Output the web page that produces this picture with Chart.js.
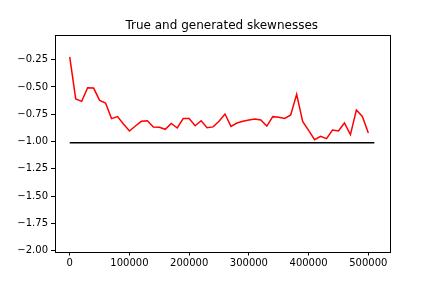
<!DOCTYPE html>
<html>
<head>
<meta charset="utf-8">
<script src="https://cdn.jsdelivr.net/npm/chart.js@4/dist/chart.umd.min.js"></script>
<style>
  html, body { margin: 0; padding: 0; background: #fff; }
  canvas { display: block; }
</style>
</head>
<body>
<canvas id="chart" width="432" height="288"></canvas>
<script>
// generated skewness, one value every 10000 steps
var steps = [];
for (var i = 0; i <= 50; i++) steps.push(i * 10000);
var generated = [
  -0.225, -0.61, -0.632, -0.507, -0.51, -0.623, -0.647, -0.79, -0.772, -0.84,
  -0.904, -0.858, -0.815, -0.809, -0.867, -0.87, -0.888, -0.834, -0.876, -0.79,
  -0.79, -0.855, -0.809, -0.874, -0.866, -0.815, -0.748, -0.861, -0.83, -0.815,
  -0.803, -0.794, -0.803, -0.858, -0.772, -0.778, -0.788, -0.757, -0.568, -0.815,
  -0.898, -0.983, -0.953, -0.974, -0.895, -0.904, -0.83, -0.937, -0.711, -0.77,
  -0.922
];
// true skewness, flat
var trueX = [0, 510000];
var trueY = [-1.01, -1.01];

var xTicks = [0, 100000, 200000, 300000, 400000, 500000];
var yTicks = [-2.0, -1.75, -1.5, -1.25, -1.0, -0.75, -0.5, -0.25];

var titleText = 'True and generated skewnesses';
var font = 'DejaVu Sans';

function pairs(xs, ys) {
  var out = [];
  for (var i = 0; i < xs.length; i++) out.push({x: xs[i], y: ys[i]});
  return out;
}

// box around plot + title, matplotlib style
var framePlugin = {
  id: 'frame',
  afterDraw: function (chart) {
    var ctx = chart.ctx, a = chart.chartArea;
    ctx.save();
    ctx.strokeStyle = '#000';
    ctx.lineWidth = 1;
    ctx.strokeRect(Math.round(a.left) + 0.5, Math.round(a.top) + 0.5,
      Math.round(a.right - a.left), Math.round(a.bottom - a.top));
    ctx.fillStyle = '#000';
    ctx.font = '12px "' + font + '"';
    ctx.textAlign = 'center';
    ctx.textBaseline = 'alphabetic';
    ctx.fillText(titleText, (a.left + a.right) / 2, a.top - 6);
    ctx.restore();
  }
};

var tickGrid = {
  drawOnChartArea: false,
  drawTicks: true,
  tickLength: 3.5,
  tickWidth: 1,
  color: '#000'
};

new Chart('chart', {
  type: 'line',
  data: {
    datasets: [{
      data: pairs(steps, generated),
      borderColor: '#ff0000',
      borderWidth: 1.5,
      pointRadius: 0,
      tension: 0,
      fill: false
    }, {
      data: pairs(trueX, trueY),
      borderColor: '#000000',
      borderWidth: 1.5,
      pointRadius: 0,
      tension: 0,
      fill: false
    }]
  },
  options: {
    responsive: false,
    animation: false,
    devicePixelRatio: 1,
    layout: { padding: { left: 0, right: 43, top: 35, bottom: 0 } },
    plugins: {
      legend: { display: false },
      title: { display: false },
      tooltip: { enabled: false }
    },
    scales: {
      x: {
        type: 'linear',
        min: -25500,
        max: 534600,
        grid: tickGrid,
        border: { display: false },
        afterBuildTicks: function (scale) {
          scale.ticks = xTicks.map(function (v) { return {value: v}; });
        },
        afterFit: function (scale) { scale.height = 36; },
        ticks: {
          color: '#000',
          padding: 2,
          maxRotation: 0,
          font: { family: font, size: 10 },
          callback: function (v) { return String(v); }
        }
      },
      y: {
        min: -2.012,
        max: -0.024,
        grid: tickGrid,
        border: { display: false },
        afterBuildTicks: function (scale) {
          scale.ticks = yTicks.map(function (v) { return {value: v}; });
        },
        afterFit: function (scale) { scale.width = 54.5; },
        ticks: {
          color: '#000',
          padding: 3,
          font: { family: font, size: 10 },
          callback: function (v) { return v.toFixed(2).replace('-', '\u2212'); }
        }
      }
    }
  },
  plugins: [framePlugin]
});
</script>
</body>
</html>
